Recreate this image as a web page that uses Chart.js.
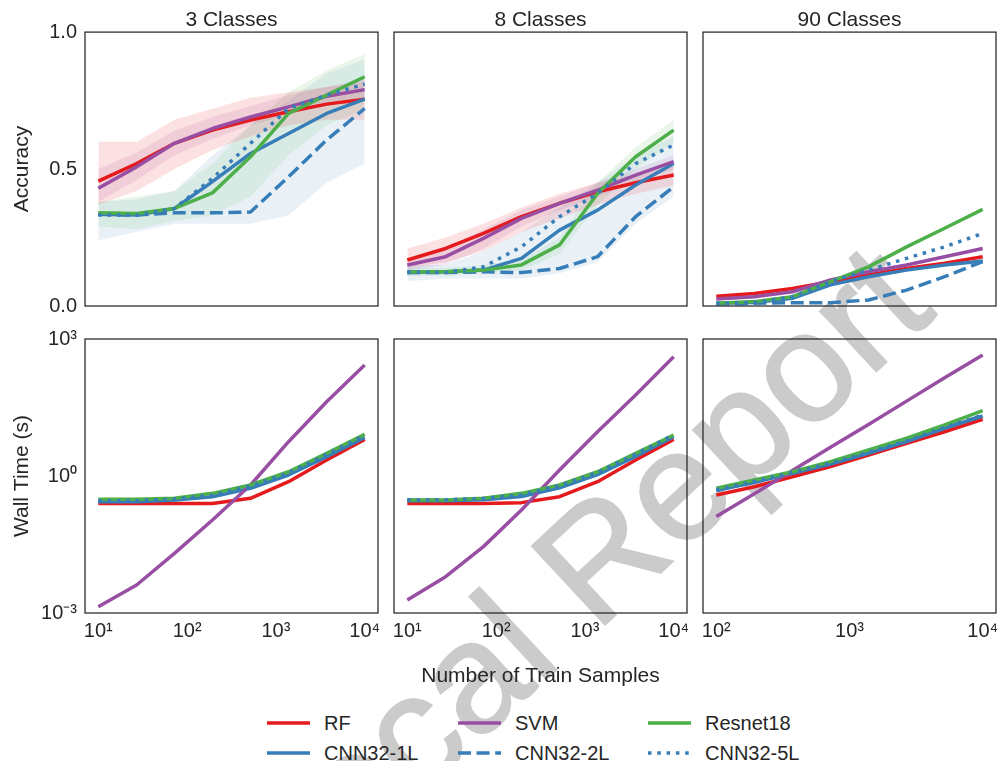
<!DOCTYPE html>
<html>
<head>
<meta charset="utf-8">
<title>Accuracy and wall time vs number of train samples</title>
<script src="https://cdn.jsdelivr.net/npm/chart.js@4/dist/chart.umd.min.js"></script>
<style>
  html, body { margin: 0; padding: 0; background: #fff; overflow: hidden; }
  #fig { position: relative; width: 998px; height: 761px; overflow: hidden;
         font-family: "Liberation Sans", Arial, sans-serif; color: #262626; }
  #fig canvas { position: absolute; z-index: 1; }
  #stamp { position: absolute; left: 578px; top: 576px; z-index: 0; line-height: 1;
           transform: translate(-50%, -50%) rotate(-43deg);
           font-size: 156px; color: #cbcbcb; white-space: nowrap;
           -webkit-text-stroke: 2px #cbcbcb; }
  .key { position: absolute; z-index: 2; height: 20px; display: flex; align-items: center;
         font-size: 20px; white-space: nowrap; }
  .key svg { margin-right: 14px; }
</style>
</head>
<body>
<div id="fig"><div id="stamp">Local Report</div></div>
<script>
// x values (number of train samples)
const samples = [10, 27, 72, 193, 518, 1389, 3728, 10000];       // 3 and 8 classes
const samples90 = [100, 193, 373, 720, 1389, 2683, 5179, 10000];  // 90 classes

const methods = ["RF", "SVM", "Resnet18", "CNN32-1L", "CNN32-2L", "CNN32-5L"];
const colors = ["#e41a1c", "#984ea3", "#4daf4a", "#377eb8", "#377eb8", "#377eb8"];
const dashes = [[], [], [], [], [13, 5.6], [3.5, 5.8]];
const layer = [6, 4, 2, 5, 3, 1]; // lower number is drawn on top

const titles = ["3 Classes", "8 Classes", "90 Classes"];
const xTicks = [10, 100, 1000, 10000];
const xTicks90 = [100, 1000, 10000];
const accTicks = [0, 0.5, 1];
const timeTicks = [0.001, 1, 1000];

// accuracy, mean lines (RF, SVM, Resnet18, CNN32-1L, CNN32-2L, CNN32-5L)
const acc3 = [
  [0.456, 0.52, 0.594, 0.642, 0.679, 0.709, 0.737, 0.755],
  [0.43, 0.508, 0.594, 0.648, 0.69, 0.727, 0.766, 0.79],
  [0.34, 0.338, 0.356, 0.413, 0.545, 0.703, 0.77, 0.837],
  [0.335, 0.332, 0.356, 0.454, 0.557, 0.63, 0.703, 0.755],
  [0.335, 0.332, 0.34, 0.34, 0.343, 0.472, 0.606, 0.721],
  [0.332, 0.332, 0.356, 0.466, 0.594, 0.721, 0.77, 0.81]
];
const acc8 = [
  [0.168, 0.21, 0.265, 0.326, 0.375, 0.417, 0.45, 0.478],
  [0.15, 0.18, 0.247, 0.32, 0.375, 0.423, 0.478, 0.527],
  [0.125, 0.125, 0.131, 0.15, 0.223, 0.411, 0.545, 0.642],
  [0.122, 0.125, 0.131, 0.174, 0.277, 0.35, 0.442, 0.52],
  [0.122, 0.122, 0.125, 0.122, 0.137, 0.18, 0.326, 0.435],
  [0.125, 0.122, 0.143, 0.216, 0.326, 0.411, 0.52, 0.588]
];
const acc90 = [
  [0.036, 0.046, 0.064, 0.089, 0.113, 0.137, 0.156, 0.18],
  [0.026, 0.034, 0.052, 0.095, 0.125, 0.15, 0.18, 0.21],
  [0.01, 0.016, 0.034, 0.089, 0.143, 0.216, 0.284, 0.353],
  [0.01, 0.013, 0.028, 0.077, 0.107, 0.131, 0.15, 0.164],
  [0.007, 0.01, 0.012, 0.012, 0.022, 0.058, 0.107, 0.162],
  [0.01, 0.013, 0.034, 0.089, 0.131, 0.174, 0.216, 0.265]
];

// spread of the single runs: [low, high] for RF, SVM, Resnet18, CNN
const spread3 = [
  [[0.37, 0.42, 0.5, 0.57, 0.62, 0.66, 0.68, 0.68], [0.6, 0.6, 0.68, 0.72, 0.76, 0.78, 0.8, 0.82]],
  [[0.38, 0.46, 0.55, 0.61, 0.66, 0.7, 0.74, 0.76], [0.5, 0.56, 0.64, 0.69, 0.73, 0.77, 0.8, 0.83]],
  [[0.29, 0.28, 0.31, 0.33, 0.4, 0.55, 0.66, 0.72], [0.38, 0.4, 0.42, 0.52, 0.66, 0.78, 0.86, 0.92]],
  [[0.24, 0.27, 0.3, 0.3, 0.3, 0.33, 0.45, 0.52], [0.38, 0.39, 0.42, 0.55, 0.66, 0.75, 0.85, 0.9]]
];
const spread8 = [
  [[0.14, 0.16, 0.2, 0.27, 0.32, 0.37, 0.41, 0.44], [0.21, 0.25, 0.3, 0.36, 0.41, 0.45, 0.48, 0.51]],
  [[0.13, 0.15, 0.21, 0.29, 0.35, 0.4, 0.45, 0.5], [0.17, 0.21, 0.28, 0.35, 0.4, 0.45, 0.5, 0.55]],
  [[0.11, 0.11, 0.12, 0.13, 0.19, 0.37, 0.5, 0.6], [0.14, 0.14, 0.15, 0.17, 0.25, 0.45, 0.58, 0.68]],
  [[0.09, 0.1, 0.1, 0.1, 0.12, 0.16, 0.3, 0.4], [0.15, 0.15, 0.2, 0.27, 0.36, 0.45, 0.55, 0.62]]
];
const spreadColors = ["rgba(228,26,28,0.13)", "rgba(152,78,163,0.13)", "rgba(77,175,74,0.11)", "rgba(55,126,184,0.11)"];

// wall time in seconds (same method order)
const time3 = [
  [0.25, 0.25, 0.25, 0.25, 0.324, 0.75, 2.24, 6.35],
  [0.00137, 0.0041, 0.0203, 0.109, 0.635, 5.64, 42.4, 269],
  [0.31, 0.31, 0.324, 0.417, 0.635, 1.24, 3.14, 8.18],
  [0.274, 0.274, 0.299, 0.352, 0.537, 1.05, 2.65, 7.03],
  [0.282, 0.282, 0.302, 0.363, 0.562, 1.1, 2.75, 7.41],
  [0.288, 0.288, 0.316, 0.38, 0.603, 1.17, 2.95, 7.76]
];
const time8 = [
  [0.25, 0.25, 0.25, 0.261, 0.352, 0.75, 2.24, 6.35],
  [0.00193, 0.00625, 0.0284, 0.18, 1.35, 9.33, 59.4, 410],
  [0.299, 0.299, 0.324, 0.417, 0.635, 1.24, 3.14, 7.91],
  [0.288, 0.288, 0.302, 0.355, 0.55, 1.07, 2.69, 7.24],
  [0.295, 0.295, 0.316, 0.372, 0.575, 1.12, 2.82, 7.59],
  [0.302, 0.302, 0.324, 0.389, 0.617, 1.2, 3.02, 7.94]
];
const time90 = [
  [0.384, 0.583, 0.966, 1.6, 2.88, 5.2, 9.33, 17.5],
  [0.129, 0.407, 1.32, 4.27, 13.5, 43.6, 141, 447],
  [0.537, 0.818, 1.24, 2.06, 3.72, 6.7, 13.1, 26.9],
  [0.479, 0.728, 1.15, 1.83, 3.14, 5.64, 11.1, 20.6],
  [0.49, 0.74, 1.17, 1.86, 3.2, 5.75, 11.3, 21.0],
  [0.5, 0.76, 1.2, 1.9, 3.3, 5.9, 11.6, 21.5]
];

Chart.defaults.font.family = '"Liberation Sans", Arial, sans-serif';
Chart.defaults.color = "#262626";
Chart.defaults.animation = false;

const SUP = { "0": "\u2070", "1": "\u00b9", "2": "\u00b2", "3": "\u00b3", "4": "\u2074", "-": "\u207b" };
const pow10 = v => "10" + String(Math.round(Math.log10(v))).split("").map(c => SUP[c]).join("");

// box round each panel
const frame = {
  id: "frame",
  afterDatasetsDraw(chart) {
    const { ctx, chartArea: a } = chart;
    ctx.save();
    ctx.strokeStyle = "#262626";
    ctx.lineWidth = 1.25;
    ctx.strokeRect(a.left, a.top, a.width, a.height);
    ctx.restore();
  }
};

function lineSets(xs, values) {
  return methods.map((m, i) => ({
    label: m,
    data: xs.map((x, k) => ({ x: x, y: values[i][k] })),
    borderColor: colors[i],
    borderWidth: 3.5,
    borderDash: dashes[i],
    borderJoinStyle: "round",
    pointRadius: 0,
    fill: false,
    order: layer[i]
  }));
}

function spreadSets(xs, spread) {
  const out = [];
  spread.forEach(([lo, hi], i) => {
    out.push({ data: xs.map((x, k) => ({ x: x, y: lo[k] })), borderColor: "transparent", borderWidth: 1,
               pointRadius: 0, fill: false, order: 10 });
    out.push({ data: xs.map((x, k) => ({ x: x, y: hi[k] })), borderColor: "transparent", borderWidth: 1,
               pointRadius: 0, fill: "-1", backgroundColor: spreadColors[i], order: 10 });
  });
  return out;
}

const boxLeft = [85, 394, 703];
const boxTop = [32, 339];
const boxW = 293, boxH = 274;

const panels = [
  { row: 0, col: 0, xs: samples, values: acc3, spread: spread3 },
  { row: 0, col: 1, xs: samples, values: acc8, spread: spread8 },
  { row: 0, col: 2, xs: samples90, values: acc90, spread: [] },
  { row: 1, col: 0, xs: samples, values: time3, spread: [] },
  { row: 1, col: 1, xs: samples, values: time8, spread: [] },
  { row: 1, col: 2, xs: samples90, values: time90, spread: [] }
];

const fig = document.getElementById("fig");

panels.forEach(p => {
  const padLeft = p.col === 0 ? 0 : 20;
  const left = p.col === 0 ? 0 : boxLeft[p.col] - padLeft;
  const top = p.row === 0 ? 0 : boxTop[1] - 22;
  const width = boxLeft[p.col] - left + boxW + 16;
  const height = p.row === 0 ? boxTop[0] + boxH + 22 : 22 + boxH + 80;

  const canvas = document.createElement("canvas");
  canvas.width = width;
  canvas.height = height;
  canvas.style.left = left + "px";
  canvas.style.top = top + "px";
  fig.appendChild(canvas);

  const ticksX = p.col === 2 ? xTicks90 : xTicks;
  const xScale = {
    type: "logarithmic",
    min: p.col === 2 ? Math.pow(10, 1.9) : Math.pow(10, 0.85),
    max: p.col === 2 ? Math.pow(10, 4.1) : Math.pow(10, 4.15),
    display: p.row === 1,
    grid: { display: false, drawTicks: false, tickLength: 0 },
    border: { display: false },
    ticks: { autoSkip: false, maxRotation: 0, padding: 6, font: { size: 20 }, callback: v => pow10(v) },
    afterBuildTicks: s => { s.ticks = ticksX.map(v => ({ value: v })); },
    afterFit: s => { s.height = p.row === 1 ? 80 : 0; },
    title: {
      display: p.row === 1 && p.col === 1,
      text: "Number of Train Samples",
      font: { size: 21 },
      padding: { top: 0, bottom: 4.4 }
    }
  };

  const yScale = p.row === 0
    ? { type: "linear", min: 0, max: 1,
        afterBuildTicks: s => { s.ticks = accTicks.map(v => ({ value: v })); },
        ticks: { callback: v => v.toFixed(1) } }
    : { type: "logarithmic", min: 0.001, max: 1000,
        afterBuildTicks: s => { s.ticks = timeTicks.map(v => ({ value: v })); },
        ticks: { callback: v => pow10(v) } };
  Object.assign(yScale, {
    display: p.col === 0,
    grid: { display: false, drawTicks: false, tickLength: 0 },
    border: { display: false },
    afterFit: s => { s.width = p.col === 0 ? 85 : 0; },
    title: {
      display: true,
      text: p.row === 0 ? "Accuracy" : "Wall Time (s)",
      font: { size: 21 },
      padding: { top: 10, bottom: 0 }
    }
  });
  Object.assign(yScale.ticks, { padding: 8, font: { size: 20 }, autoSkip: false });

  new Chart(canvas, {
    type: "line",
    data: { datasets: spreadSets(p.xs, p.spread).concat(lineSets(p.xs, p.values)) },
    options: {
      responsive: false,
      animation: false,
      events: [],
      layout: {
        padding: {
          left: padLeft,
          right: 16,
          top: p.row === 0 ? 0 : 22,
          bottom: p.row === 0 ? 22 : 0
        }
      },
      plugins: {
        legend: { display: false },
        tooltip: { enabled: false },
        title: {
          display: p.row === 0,
          text: titles[p.col],
          fullSize: false,
          font: { size: 21, weight: "normal", lineHeight: 1.1 },
          color: "#262626",
          padding: { top: 9, bottom: 0 }
        }
      },
      scales: { x: xScale, y: yScale }
    },
    plugins: [frame]
  });
});

// legend: 3 columns, filled column by column like the original
const keyCols = [267, 458, 648];
const keyRows = [723, 753];
const keyOrder = [0, 3, 1, 4, 2, 5];
keyOrder.forEach((m, n) => {
  const div = document.createElement("div");
  div.className = "key";
  div.style.left = keyCols[Math.floor(n / 2)] + "px";
  div.style.top = (keyRows[n % 2] - 10) + "px";
  const dash = dashes[m].length ? ' stroke-dasharray="' + dashes[m].join(" ") + '"' : "";
  div.innerHTML = '<svg width="43" height="20"><line x1="0" y1="10" x2="43" y2="10" stroke="' + colors[m] +
    '" stroke-width="3.5"' + dash + '/></svg><span>' + methods[m] + "</span>";
  fig.appendChild(div);
});
</script>
</body>
</html>
